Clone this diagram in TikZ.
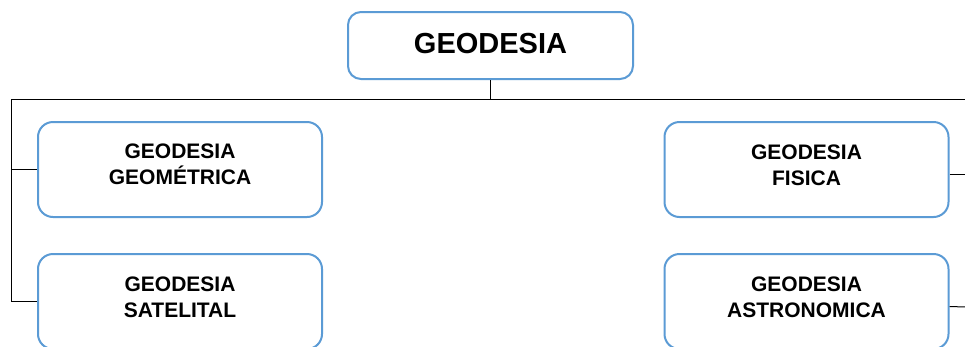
\documentclass[tikz,border=0pt]{standalone}
\usepackage{fontspec}
\setmainfont{Liberation Sans}
\definecolor{boxblue}{RGB}{91,155,213}
\begin{document}
\begin{tikzpicture}[x=1pt,y=-1pt,
  box/.style={draw=boxblue, line width=2pt, rounded corners=15pt, fill=white,
    minimum width=284pt, minimum height=95pt, inner sep=0pt},
  topbox/.style={box, rounded corners=13pt, minimum width=285pt, minimum height=67pt},
  txt/.style={align=center, inner sep=0pt, font=\fontsize{21}{26}\selectfont\bfseries},
  toptxt/.style={align=center, inner sep=0pt, font=\fontsize{29}{34}\selectfont\bfseries},
  conn/.style={draw=black, line width=1pt}]
\useasboundingbox (0,0) rectangle (965,346);
\clip (0,0) rectangle (965,346);
\fill[white] (0,0) rectangle (965,346);

% coordinates for the bus
\coordinate (busL) at (11,99);
\coordinate (busR) at (966,99);
\coordinate (busM) at (490.5,99);
\coordinate (r1) at (966,174);
\coordinate (r2) at (966,307);

% connectors
\draw[conn] (busL) -- (busR);
\draw[conn] (busL) -- (11,301.5) coordinate (lbot);

% boxes
\node[topbox] (top) at (490.5,45.5) {};
\node[toptxt] (toptext) at (490.5,43.5) {GEODESIA};

\node[box] (geo) at (180,169.5) {};
\node[txt] (geotext) at (180,164) {GEODESIA\\GEOMÉTRICA};

\node[box] (sat) at (180,301.5) {};
\node[txt] (sattext) at (180,297) {GEODESIA\\SATELITAL};

\node[box] (fis) at (806.5,169.5) {};
\node[txt] (fistext) at (806.5,165.5) {GEODESIA\\FISICA};

\node[box] (ast) at (806.5,301.5) {};
\node[txt] (asttext) at (806.5,297) {GEODESIA\\ASTRONOMICA};

\draw[conn] (top.south) -- (busM);
\draw[conn] (11,169.5) -- (geo.west);
\draw[conn] (lbot) -- (sat.west);
\draw[conn] ([yshift=-4.5pt]fis.east) -- (r1);
\draw[conn] ([yshift=-5pt]ast.east) -- (r2);
\end{tikzpicture}
\end{document}
